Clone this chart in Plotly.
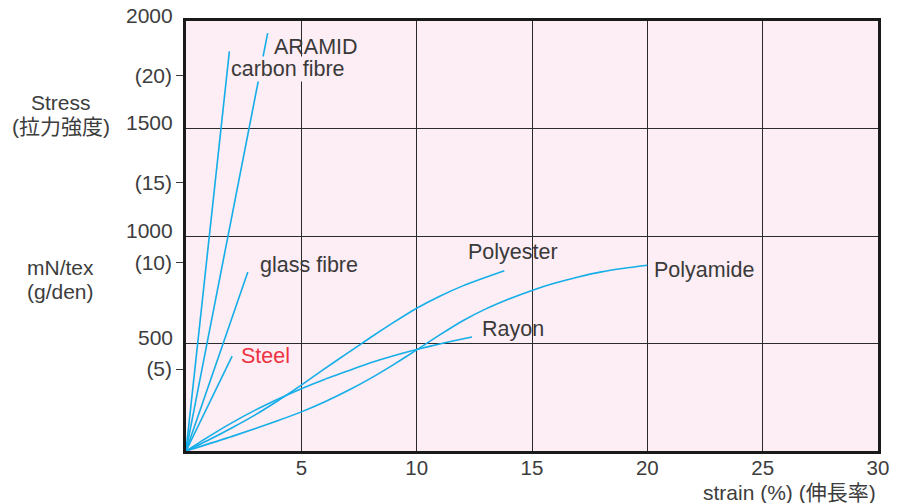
import plotly.graph_objects as go

# ---- data (strain %, stress mN/tex) ----
carbon_x = [0, 1.88]
carbon_y = [0, 1859]
aramid_x = [0, 3.54]
aramid_y = [0, 1944]
glass_x = [0, 2.68]
glass_y = [0, 833]
steel_x = [0, 2.0]
steel_y = [0, 441]
polyester_x = [0, 1, 2, 3, 4, 5, 6, 7, 8, 9, 10, 11, 12, 13, 13.8]
polyester_y = [0, 52, 108, 168, 235, 306, 382, 455, 528, 598, 664, 720, 768, 808, 838]
rayon_x = [0, 1, 2, 3, 4, 5, 6, 7, 8, 9, 10, 11, 12.4]
rayon_y = [0, 68, 132, 190, 242, 290, 333, 372, 410, 443, 472, 498, 530]
polyamide_x = [0, 2, 4, 5, 6, 7, 8, 9, 10, 11, 12, 13, 14, 15, 16, 17, 18, 19, 20]
polyamide_y = [0, 68, 142, 182, 228, 280, 338, 402, 470, 540, 606, 661, 707, 747, 781, 809, 833, 850, 864]

x_ticks = [5, 10, 15, 20, 25, 30]
gden_tickvals = [381, 875, 1249, 1746]
gden_ticktext = ["(5)", "(10)", "(15)", "(20)"]
mn_tex_vals = [500, 1000, 1500, 2000]

labels = [
    ("ARAMID", 3.72, 1880, "#3a3a3a"),
    ("carbon fibre", 1.92, 1778, "#3a3a3a"),
    ("glass fibre", 3.1, 866, "#3a3a3a"),
    ("Steel", 2.28, 440, "#ee3342"),
    ("Polyester", 12.12, 926, "#3a3a3a"),
    ("Polyamide", 20.2, 840, "#3a3a3a"),
    ("Rayon", 12.75, 568, "#3a3a3a"),
]

FONT = "Liberation Sans, Arial, Noto Sans CJK JP, sans-serif"
TXT = "#3d3d3d"
LINE = "#14aee8"
BG = "#fdedf4"

W, H = 907, 503
PL, PR, PT, PB = 185.5, 878.5, 20.7, 450.9
PW, PH = PR - PL, PB - PT

fig = go.Figure()
for xs, ys in [(carbon_x, carbon_y), (aramid_x, aramid_y), (glass_x, glass_y),
               (steel_x, steel_y), (polyester_x, polyester_y), (rayon_x, rayon_y),
               (polyamide_x, polyamide_y)]:
    fig.add_trace(go.Scatter(x=xs, y=ys, mode="lines",
                             line=dict(color=LINE, width=1.6, shape="spline", smoothing=0.6),
                             hoverinfo="skip", showlegend=False))

annos = []
for txt, x, y, c in labels:
    a = dict(text=txt, x=x, y=y, xref="x", yref="y", xanchor="left", yanchor="middle",
             showarrow=False, font=dict(family=FONT, size=21.5, color=c))
    if txt == "carbon fibre":
        a["bgcolor"] = BG
        a["borderpad"] = 0
    annos.append(a)

for v in mn_tex_vals:
    annos.append(dict(text=str(v), x=-0.016, y=v, xref="paper", yref="y", xanchor="right",
                      yanchor="middle", yshift=6, showarrow=False,
                      font=dict(family=FONT, size=21, color=TXT)))

def px(xp):
    return (xp - PL) / PW
def py(yp):
    return (PB - yp) / PH

for txt, cx, cy in [("Stress", 60, 102.5), ("(拉力強度)", 60, 126.5),
                    ("mN/tex", 60, 267), ("(g/den)", 60, 291)]:
    annos.append(dict(text=txt, x=px(cx), y=py(cy), xref="paper", yref="paper",
                      xanchor="center", yanchor="middle", showarrow=False,
                      font=dict(family=FONT, size=21, color=TXT)))

annos.append(dict(text="strain (%) (伸長率)", x=1.0, y=py(492), xref="paper", yref="paper",
                  xanchor="right", yanchor="middle", showarrow=False,
                  font=dict(family=FONT, size=21, color=TXT)))

fig.update_layout(
    width=W, height=H,
    margin=dict(l=PL, r=W - PR, t=PT, b=H - PB),
    paper_bgcolor="white",
    plot_bgcolor=BG,
    annotations=annos,
    xaxis=dict(range=[0, 30], tickvals=x_ticks, ticktext=[str(v) for v in x_ticks],
               showgrid=True, gridcolor="#2a2a2a", gridwidth=1, zeroline=False,
               showline=True, linecolor="#1a1a1a", linewidth=2.5, mirror=True,
               ticks="", ticklabelstandoff=-3,
               tickfont=dict(family=FONT, size=20.5, color=TXT)),
    yaxis=dict(range=[0, 2000], tickvals=gden_tickvals, ticktext=gden_ticktext,
               showgrid=False, zeroline=False,
               showline=True, linecolor="#1a1a1a", linewidth=2.5, mirror=True,
               ticks="outside", ticklen=7, tickwidth=1.2, tickcolor="#3a3a3a",
               tickfont=dict(family=FONT, size=21, color=TXT),
               minor=dict(tickvals=[500, 1000, 1500], showgrid=True, gridcolor="#2a2a2a",
                          gridwidth=1, ticks="")),
)

fig.write_html("out.html", config={"displayModeBar": False},
               post_script="document.body.style.margin='0';document.body.style.overflow='hidden';")
